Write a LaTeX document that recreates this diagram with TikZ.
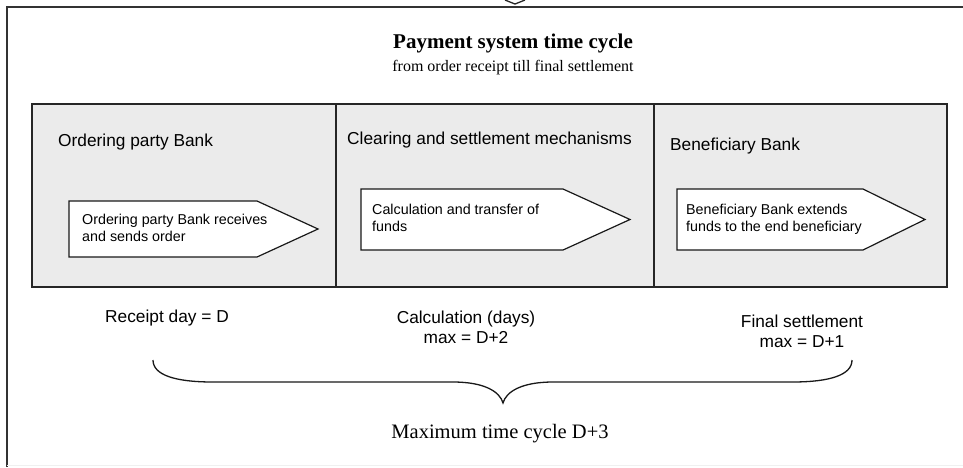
\documentclass[tikz,border=0pt]{standalone}
\usepackage{fontspec}
\setmainfont{Liberation Serif}
\setsansfont{Liberation Sans}
\begin{document}
\begin{tikzpicture}[x=1pt,y=-1pt,
  frame/.style={draw=black!80, line width=1.6pt},
  band/.style={draw=black!85, fill=black!8, line width=1.2pt},
  arrowbox/.style={draw=black!90, fill=white, line width=1.2pt, line join=miter},
  brace/.style={draw=black!90, line width=1.3pt},
  head/.style={font=\sffamily\fontsize{17.3}{20}\selectfont, inner sep=0pt, anchor=base west},
  inner/.style={font=\sffamily\fontsize{14.3}{17}\selectfont, inner sep=0pt, anchor=north west, align=left},
  foot/.style={font=\sffamily\fontsize{17.3}{20}\selectfont, inner sep=0pt, align=center},
]
\useasboundingbox (0,0) rectangle (963,467);
\fill[white] (0,0) rectangle (963,467);

% outer frame and the small mark above it
\draw[frame] (7,467) -- (7,7) -- (963,7);
\draw[black!6, line width=1pt] (7,465) -- (963,465);
\draw[black!85, line width=1.3pt] (505,0) -- (515,4) -- (525,0);

% title
\node[font=\bfseries\fontsize{21}{24}\selectfont, inner sep=0pt, anchor=base] (title) at (513,48) {Payment system time cycle};
\node[font=\fontsize{16}{19}\selectfont, inner sep=0pt, anchor=base] (subtitle) at (513,71) {from order receipt till final settlement};

% three stages band
\draw[band] (32,104) rectangle (947,287);
\draw[band] (336,104) -- (336,287);
\draw[band] (654,104) -- (654,287);

\node[head] (h1) at (58,146) {Ordering party Bank};
\node[head] (h2) at (347,144) {Clearing and settlement mechanisms};
\node[head] (h3) at (670,150) {Beneficiary Bank};

% process arrows
\draw[arrowbox] (69,201) -- (257,201) -- (318,229) -- (257,257) -- (69,257) -- cycle;
\draw[arrowbox] (361,189) -- (563,189) -- (630,219.5) -- (563,250) -- (361,250) -- cycle;
\draw[arrowbox] (677,189) -- (863,189) -- (925,219.5) -- (863,250) -- (677,250) -- cycle;

\node[inner] (t1) at (82,213.5) {Ordering party Bank receives\\and sends order};
\node[inner] (t2) at (372,204) {Calculation and transfer of\\funds};
\node[inner] (t3) at (686,204) {Beneficiary Bank extends\\funds to the end beneficiary};

% durations
\node[foot, anchor=base] (d1) at (167,322) {Receipt day = D};
\node[foot, anchor=north] (d2) at (466,310.5) {Calculation (days)\\max = D+2};
\node[foot, anchor=north] (d3) at (802,314.4) {Final settlement\\max = D+1};

% overall brace
\draw[brace] (153,360) .. controls (153,375) and (175,382) .. (213,382)
  -- (453,382) .. controls (485,382) and (500,392) .. (503,403)
  .. controls (506,392) and (521,382) .. (553,382)
  -- (792,382) .. controls (830,382) and (852,375) .. (852,360);

\node[font=\fontsize{20.5}{24}\selectfont, inner sep=0pt, anchor=base] (total) at (500,438) {Maximum time cycle D+3};
\end{tikzpicture}
\end{document}
